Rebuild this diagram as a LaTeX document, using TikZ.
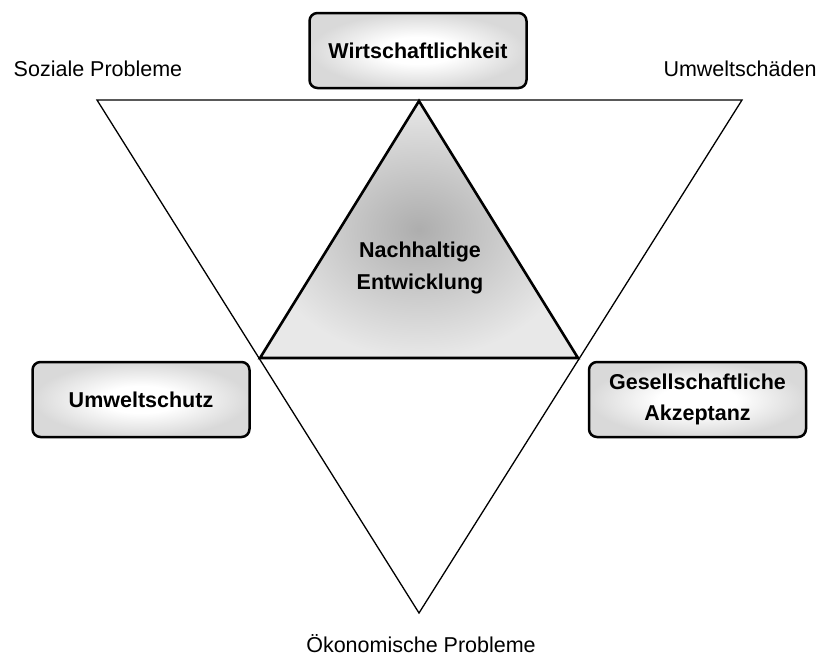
\documentclass[tikz,border=0pt]{standalone}
\usepackage{fontspec}
\setmainfont{Liberation Sans}

% shading colours
\definecolor{boxEdge}{gray}{0.85}
\definecolor{triCore}{gray}{0.68}
\definecolor{triRim}{gray}{0.91}

\pgfdeclareradialshading{boxglow}{\pgfpointorigin}{color(0bp)=(white); color(9bp)=(white); color(25bp)=(boxEdge); color(50bp)=(boxEdge)}
\pgfdeclareradialshading{coreglow}{\pgfpointorigin}{color(0bp)=(triCore); color(25bp)=(triRim); color(50bp)=(triRim)}

\tikzset{
  pillar/.style={draw, line width=2.5pt, rounded corners=8pt, shade, shading=boxglow,
    minimum width=217pt, minimum height=75pt, align=center,
    font=\fontsize{21.5}{31}\selectfont\bfseries},
  corelabel/.style={align=center, font=\fontsize{21.5}{32}\selectfont\bfseries},
  problem/.style={anchor=base, inner sep=0pt, font=\fontsize{21.5}{26}\selectfont},
  outerframe/.style={draw, line width=1.3pt, line join=miter},
  coretri/.style={draw, line width=2.6pt, line join=miter, shade, shading=coreglow}
}

\begin{document}
\begin{tikzpicture}[x=1pt,y=-1pt]
  \useasboundingbox (0,0) rectangle (821,657);

  % outer inverted triangle
  \coordinate (L) at (97,100);
  \coordinate (R) at (742,100);
  \coordinate (B) at (419,613);
  \path[outerframe] (L) -- (R) -- (B) -- cycle;

  % inner shaded triangle
  \coordinate (T) at (419,101);
  \coordinate (A) at (260,358);
  \coordinate (C) at (578,358);
  \path[coretri] (T) -- (A) -- (C) -- cycle;
  \node[corelabel] (core) at (420,268) {Nachhaltige\\Entwicklung};

  % the three pillars
  \node[pillar] (wirt) at (418,50.5) {Wirtschaftlichkeit};
  \node[pillar] (umw) at (141,399.5) {Umweltschutz};
  \node[pillar] (ges) at (697.5,399.5) {Gesellschaftliche\\Akzeptanz};

  % problem labels at the outer corners
  \node[problem] (soz) at (98,76) {Soziale Probleme};
  \node[problem] (sch) at (740,76) {Umweltschäden};
  \node[problem] (oek) at (421,652) {Ökonomische Probleme};
\end{tikzpicture}
\end{document}
